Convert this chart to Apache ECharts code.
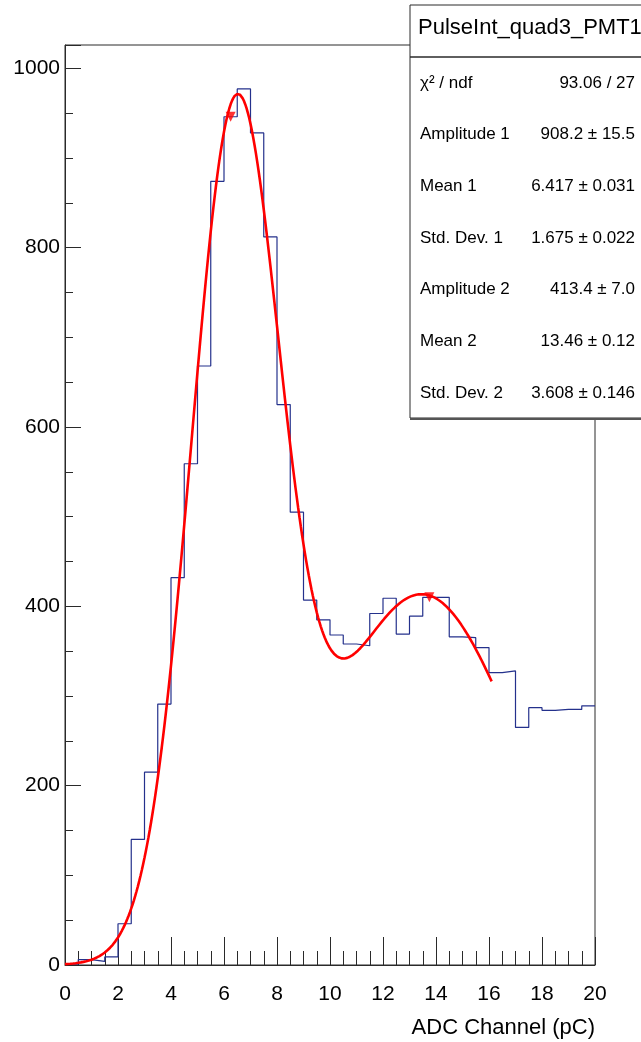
<!DOCTYPE html>
<html>
<head>
<meta charset="utf-8">
<title>PulseInt_quad3_PMT1</title>
<script src="https://cdn.jsdelivr.net/npm/echarts@6/dist/echarts.min.js"></script>
<style>
  html, body { margin: 0; padding: 0; background: #ffffff; }
  #chart { width: 641px; height: 1042px; }
</style>
</head>
<body>
<div id="chart"></div>
<script>
// Histogram: low edges of the 0.5 pC bins and the counts in each bin
const binEdges = [0, 0.5, 1, 1.5, 2, 2.5, 3, 3.5, 4, 4.5,
                  5, 5.5, 6, 6.5, 7, 7.5, 8, 8.5, 9, 9.5,
                  10, 10.5, 11, 11.5, 12, 12.5, 13, 13.5, 14, 14.5,
                  15, 15.5, 16, 16.5, 17, 17.5, 18, 18.5, 19, 19.5, 20];
const binCounts = [1, 6, 4, 9, 46, 140, 215, 291, 432, 559,
                   668, 874, 946, 977, 928, 812, 625, 505, 407, 385,
                   368, 358, 356, 392, 409, 369, 389, 410, 410, 366,
                   365, 354, 326, 328, 265, 287, 284, 285, 285, 289];

// Double-Gaussian fit result (amplitude, mean, sigma for each peak) and fit range
const fitAmplitudes = [908.2, 413.4];
const fitMeans = [6.417, 13.46];
const fitSigmas = [1.675, 3.608];
const fitRange = [0, 16.1];
const fitStep = 0.05;

// Peaks found in the spectrum (bin centre, bin content)
const peakX = [6.25, 13.75];
const peakY = [946, 410];

// Axis ticks
const xTickValues = [0, 2, 4, 6, 8, 10, 12, 14, 16, 18, 20];
const yTickValues = [0, 200, 400, 600, 800, 1000];
const yMax = 1026;

// Stats box rows
const statsTitle = 'PulseInt_quad3_PMT1';
const statsNames = ['χ² / ndf', 'Amplitude 1', 'Mean 1', 'Std. Dev. 1', 'Amplitude 2', 'Mean 2', 'Std. Dev. 2'];
const statsValues = ['93.06 / 27', '908.2 ± 15.5', '6.417 ± 0.031', '1.675 ± 0.022', '413.4 ± 7.0', '13.46 ± 0.12', '3.608 ± 0.146'];

const FONT = '"Liberation Sans", Arial, Helvetica, sans-serif';

// Step line: one point per bin low edge, plus closing point at the upper edge
const histData = binEdges.map((x, i) => [x, binCounts[Math.min(i, binCounts.length - 1)]]);

// Evaluate the fitted model over its range
function fitModel(x) {
  let y = 0;
  for (let k = 0; k < fitAmplitudes.length; k++) {
    const d = (x - fitMeans[k]) / fitSigmas[k];
    y += fitAmplitudes[k] * Math.exp(-0.5 * d * d);
  }
  return y;
}
const fitData = [];
const nFit = Math.round((fitRange[1] - fitRange[0]) / fitStep);
for (let i = 0; i <= nFit; i++) {
  const x = fitRange[0] + i * fitStep;
  fitData.push([x, fitModel(x)]);
}

const peakData = peakX.map((x, i) => [x, peakY[i]]);

// Stats box geometry
const box = { x: 410, y: 5, w: 240, h: 413, titleH: 52 };
const rowY0 = 83, rowDY = 51.7;

const graphics = [
  { type: 'rect', z: 100, shape: { x: box.x, y: box.y, width: box.w, height: box.h },
    style: { fill: '#ffffff', stroke: '#2a2a2a', lineWidth: 1 } },
  { type: 'line', z: 101, shape: { x1: box.x, y1: box.y + box.h + 1, x2: box.x + box.w, y2: box.y + box.h + 1 },
    style: { stroke: '#555555', lineWidth: 2 } },
  { type: 'line', z: 101, shape: { x1: box.x, y1: box.y + box.titleH, x2: box.x + box.w, y2: box.y + box.titleH },
    style: { stroke: '#2a2a2a', lineWidth: 1.5 } },
  { type: 'text', z: 102, x: 418, y: 28,
    style: { text: statsTitle, font: '22px ' + FONT, fill: '#000', align: 'left', verticalAlign: 'middle' } },
  // x-axis title
  { type: 'text', z: 102, x: 595, y: 1028,
    style: { text: 'ADC Channel (pC)', font: '22px ' + FONT, fill: '#000', align: 'right', verticalAlign: 'middle' } }
];
statsNames.forEach((name, i) => {
  const y = rowY0 + i * rowDY;
  graphics.push({ type: 'text', z: 102, x: 420, y: y,
    style: { text: name, font: '17px ' + FONT, fill: '#000', align: 'left', verticalAlign: 'middle' } });
  graphics.push({ type: 'text', z: 102, x: 635, y: y,
    style: { text: statsValues[i], font: '17px ' + FONT, fill: '#000', align: 'right', verticalAlign: 'middle' } });
});

const chart = echarts.init(document.getElementById('chart'), null, { renderer: 'canvas' });
chart.setOption({
  animation: false,
  backgroundColor: '#ffffff',
  grid: {
    left: 65, right: 46, top: 45, bottom: 77,
    show: true, borderColor: '#2a2a2a', borderWidth: 1, backgroundColor: 'transparent'
  },
  xAxis: {
    type: 'value', min: 0, max: 20, interval: 2,
    axisLine: { show: true, onZero: false, lineStyle: { color: '#2a2a2a', width: 1 } },
    axisTick: { show: true, inside: true, length: 28, lineStyle: { color: '#2a2a2a', width: 1 } },
    minorTick: { show: true, splitNumber: 4, length: 14, lineStyle: { color: '#2a2a2a', width: 1 } },
    splitLine: { show: false },
    axisLabel: {
      margin: 19, color: '#000', fontSize: 21, fontFamily: FONT,
      formatter: v => (xTickValues.indexOf(v) >= 0 ? String(v) : '')
    }
  },
  yAxis: {
    type: 'value', min: 0, max: yMax, interval: 200,
    axisLine: { show: true, onZero: false, lineStyle: { color: '#2a2a2a', width: 1 } },
    axisTick: { show: true, inside: true, length: 16, lineStyle: { color: '#2a2a2a', width: 1 } },
    minorTick: { show: true, splitNumber: 4, length: 8, lineStyle: { color: '#2a2a2a', width: 1 } },
    splitLine: { show: false },
    axisLabel: {
      margin: 5, color: '#000', fontSize: 21, fontFamily: FONT, showMaxLabel: false,
      formatter: v => (yTickValues.indexOf(v) >= 0 ? String(v) : '')
    }
  },
  series: [
    {
      name: 'histogram', type: 'line', step: 'end', data: histData,
      symbol: 'none', lineStyle: { color: '#24318c', width: 1.2 }, z: 3, silent: true
    },
    {
      name: 'fit', type: 'line', data: fitData, smooth: false,
      symbol: 'none', lineStyle: { color: '#ff0000', width: 2.6 }, z: 4, silent: true
    },
    {
      name: 'peaks', type: 'scatter', data: peakData,
      symbol: 'triangle', symbolRotate: 180, symbolSize: 10,
      itemStyle: { color: '#ff0000' }, z: 5, silent: true
    }
  ],
  graphic: graphics
});
</script>
</body>
</html>
